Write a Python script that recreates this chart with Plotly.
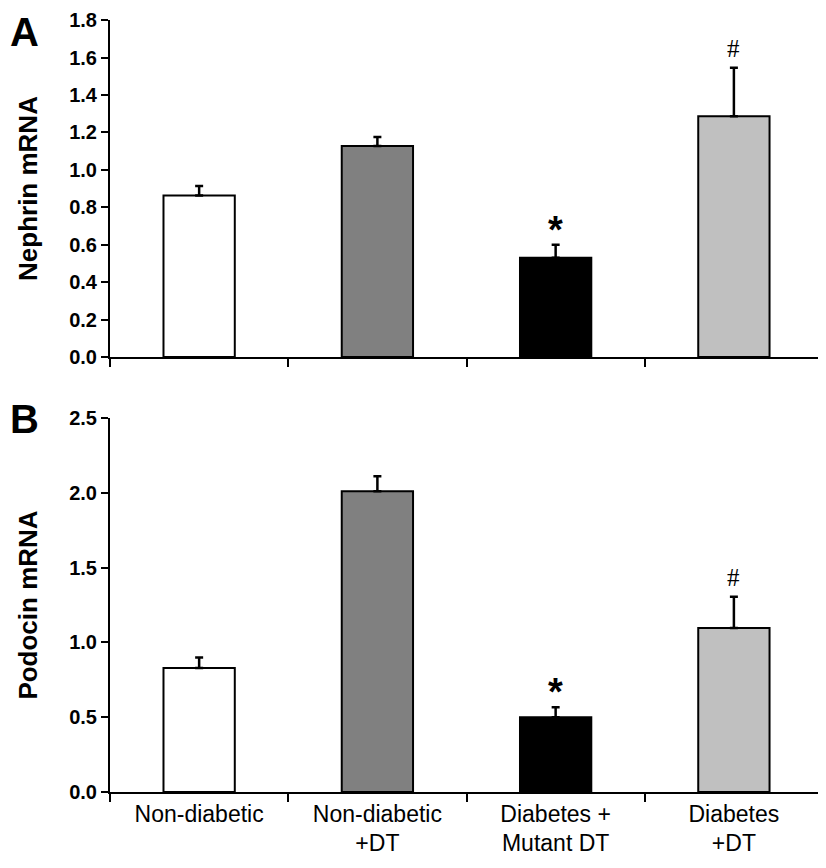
import plotly.graph_objects as go
from plotly.subplots import make_subplots

groups = ["Non-diabetic", "Non-diabetic<br>+DT", "Diabetes +<br>Mutant DT", "Diabetes<br>+DT"]
colors = ["#ffffff", "#808080", "#000000", "#c0c0c0"]

nephrin = [0.863, 1.128, 0.53, 1.286]
nephrin_err = [0.05, 0.047, 0.07, 0.26]
podocin = [0.829, 2.01, 0.50, 1.096]
podocin_err = [0.07, 0.10, 0.067, 0.21]

marks = ["", "", "*", "#"]

fig = make_subplots(rows=2, cols=1)

for row, vals, errs in [(1, nephrin, nephrin_err), (2, podocin, podocin_err)]:
    fig.add_trace(go.Bar(
        x=groups, y=vals, width=0.4,
        marker=dict(color=colors, line=dict(color="black", width=2)),
        error_y=dict(type="data", array=errs, arrayminus=[0] * 4, symmetric=False,
                     color="black", thickness=2.5, width=4),
        showlegend=False), row=row, col=1)
    for g, v, e, m in zip(groups, vals, errs, marks):
        if not m:
            continue
        if m == "*":
            fnt = dict(family="Arial", size=38, color="black", weight="bold")
            ys = -8
        else:
            fnt = dict(family="Times New Roman, Liberation Serif", size=25, color="black")
            ys = 4
        fig.add_annotation(x=g, y=v + e, text=m, showarrow=False, yanchor="bottom",
                           yshift=ys, font=fnt, row=row, col=1)

# the page body adds ~8px margin, domains below are corrected for it
fig.update_xaxes(showline=True, linecolor="black", linewidth=2, ticks="outside",
                 tickson="boundaries", ticklen=8, tickwidth=2, tickcolor="black",
                 domain=[0.1235, 0.9867], automargin=False,
                 tickfont=dict(family="Arial", size=23, color="black"))
fig.update_xaxes(showticklabels=False, row=1, col=1)
fig.update_yaxes(showline=True, linecolor="black", linewidth=2, ticks="outside",
                 ticklen=7, tickwidth=2, tickcolor="black", showgrid=False, zeroline=False,
                 automargin=False, ticklabeloverflow="allow",
                 tickfont=dict(family="Arial", size=20, color="black", weight="bold"),
                 title_font=dict(family="Arial", size=26, color="black", weight="bold"))
fig.update_yaxes(range=[0, 1.8], dtick=0.2, tickformat=".1f", domain=[0.598, 0.986],
                 title_text="Nephrin mRNA", title_standoff=24, row=1, col=1)
fig.update_yaxes(range=[0, 2.5], dtick=0.5, tickformat=".1f", domain=[0.0968, 0.5276],
                 title_text="Podocin mRNA", title_standoff=24, row=2, col=1)

fig.add_annotation(x=0.0, y=1.0, xref="paper", yref="paper", text="<b>A</b>",
                   showarrow=False, xanchor="left", yanchor="top",
                   font=dict(family="Arial", size=40, color="black"))
fig.add_annotation(x=0.0, y=0.554, xref="paper", yref="paper", text="<b>B</b>", showarrow=False,
                   xanchor="left", yanchor="top", font=dict(family="Arial", size=40, color="black"))

fig.update_layout(width=826, height=868, margin=dict(l=0, r=0, t=0, b=0),
                  plot_bgcolor="white", paper_bgcolor="white", bargap=0.6)

fig.write_html("out.html")
